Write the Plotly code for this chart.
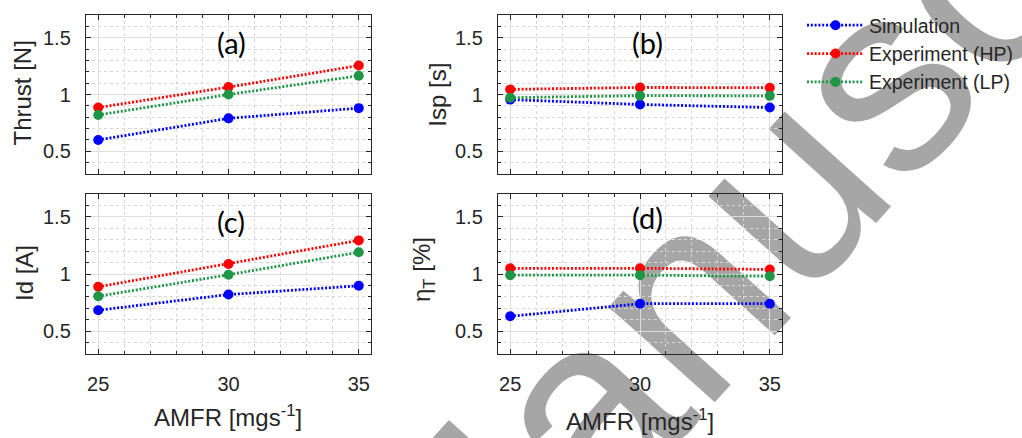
import plotly.graph_objects as go
from plotly.subplots import make_subplots

# Anode mass flow rate (mg/s)
amfr = [25, 30, 35]

# (a) Thrust [N]
thrust_sim = [0.60, 0.79, 0.88]
thrust_hp = [0.885, 1.065, 1.255]
thrust_lp = [0.82, 1.00, 1.165]

# (b) Isp [s]
isp_sim = [0.955, 0.912, 0.885]
isp_hp = [1.045, 1.062, 1.06]
isp_lp = [0.972, 0.99, 0.988]

# (c) Discharge current Id [A]
id_sim = [0.683, 0.82, 0.897]
id_hp = [0.888, 1.088, 1.294]
id_lp = [0.805, 0.994, 1.19]

# (d) Thrust efficiency [%]
eta_sim = [0.63, 0.74, 0.74]
eta_hp = [1.05, 1.05, 1.04]
eta_lp = [0.99, 0.99, 0.98]

series_names = ["Simulation", "Experiment (HP)", "Experiment (LP)"]
series_colors = ["rgb(0,0,255)", "rgb(255,0,0)", "rgb(30,150,70)"]
panel_tags = ["(a)", "(b)", "(c)", "(d)"]
y_titles = ["Thrust [N]", "Isp [s]", "Id [A]", "η<sub>T</sub> [%]"]
x_title = "AMFR [mgs<sup>-1</sup>]"
y_ticks = [0.5, 1, 1.5]
x_ticks = [25, 30, 35]

panels = [
    (thrust_sim, thrust_hp, thrust_lp),
    (isp_sim, isp_hp, isp_lp),
    (id_sim, id_hp, id_lp),
    (eta_sim, eta_hp, eta_lp),
]

W, H = 1022, 438
FONT = "Liberation Sans, Arial, Helvetica, sans-serif"
INK = "rgb(38,38,38)"

fig = make_subplots(rows=2, cols=2)

for k, series in enumerate(panels):
    r, c = k // 2 + 1, k % 2 + 1
    for name, vals, col in zip(series_names, series, series_colors):
        fig.add_trace(
            go.Scatter(
                x=amfr, y=vals, name=name, mode="lines+markers",
                line=dict(color=col, width=2.8, dash="2px,1.8px"),
                marker=dict(color=col, size=10, line=dict(width=0)),
                showlegend=(k == 0),
            ),
            row=r, col=c,
        )

# subplot placement in pixels: (left, right, top, bottom)
boxes = [(86, 371, 15, 174), (498, 782, 15, 174),
         (86, 371, 194, 354), (498, 782, 194, 354)]

for k, (l, rgt, t, b) in enumerate(boxes):
    sfx = "" if k == 0 else str(k + 1)
    bottom_row = k >= 2
    fig.layout["xaxis" + sfx].update(
        domain=[l / W, rgt / W], range=[24.53, 35.47],
        tickvals=x_ticks, showticklabels=bottom_row,
        ticks="inside", ticklen=5, tickcolor=INK,
        showline=True, linecolor=INK, linewidth=1.4, mirror="allticks",
        showgrid=True, gridcolor="rgb(222,222,222)", gridwidth=1,
        minor=dict(dtick=1, ticks="inside", ticklen=3, tickcolor=INK,
                   showgrid=True, gridcolor="rgb(215,215,215)", griddash="dot"),
        tickfont=dict(family=FONT, size=20, color=INK),
        ticklabelstandoff=12, zeroline=False,
    )
    fig.layout["yaxis" + sfx].update(
        domain=[1 - b / H, 1 - t / H], range=[0.3, 1.7],
        tickvals=y_ticks, ticktext=["0.5", "1", "1.5"],
        ticks="inside", ticklen=5, tickcolor=INK,
        showline=True, linecolor=INK, linewidth=1.4, mirror="allticks",
        showgrid=True, gridcolor="rgb(222,222,222)", gridwidth=1,
        minor=dict(dtick=0.1, ticks="inside", ticklen=3, tickcolor=INK,
                   showgrid=True, gridcolor="rgb(215,215,215)", griddash="dot"),
        tickfont=dict(family=FONT, size=20, color=INK),
        ticklabelstandoff=10, zeroline=False,
    )

annotations = []
# panel tags
tag_pos = [(30.1, 1.46), (30.3, 1.46), (30.1, 1.455), (30.3, 1.49)]
for k, (tag, (tx, ty)) in enumerate(zip(panel_tags, tag_pos)):
    sfx = "" if k == 0 else str(k + 1)
    annotations.append(dict(
        x=tx, y=ty, xref="x" + sfx, yref="y" + sfx, text=tag, showarrow=False,
        font=dict(family="Lato, Open Sans, sans-serif", size=29, color="black"),
    ))

# y-axis titles
ytitle_pos = [(22.5, 93), (436.7, 95), (24, 273), (423, 270)]
for txt, (px, py) in zip(y_titles, ytitle_pos):
    annotations.append(dict(
        x=px / W, y=1 - py / H, xref="paper", yref="paper", text=txt,
        textangle=-90, showarrow=False, xanchor="center", yanchor="middle",
        font=dict(family=FONT, size=24, color=INK),
    ))

# x-axis titles under the bottom row
for px, py in [(228, 416), (640, 420)]:
    annotations.append(dict(
        x=px / W, y=1 - py / H, xref="paper", yref="paper", text=x_title,
        showarrow=False, xanchor="center", yanchor="middle",
        font=dict(family=FONT, size=24, color=INK),
    ))

# diagonal watermark behind everything
cx, cy = 805 / W, 1 - 125 / H
fig.add_shape(
    type="rect", xref="paper", yref="paper",
    x0=cx - 0.05, x1=cx + 0.05, y0=cy - 0.05, y1=cy + 0.05,
    line=dict(width=0), fillcolor="rgba(0,0,0,0)", layer="below",
    label=dict(text="Manuscript", textangle=-48, textposition="middle center",
               font=dict(family=FONT, size=270, color="rgb(166,166,166)")),
)

fig.update_layout(
    width=W, height=H, margin=dict(l=0, r=0, t=0, b=0),
    paper_bgcolor="white", plot_bgcolor="rgba(0,0,0,0)",
    annotations=annotations,
    legend=dict(
        x=802 / W, y=1 - 6 / H, xanchor="left", yanchor="top",
        font=dict(family=FONT, size=19.5, color=INK),
        bgcolor="rgba(0,0,0,0)", itemwidth=57, tracegroupgap=0,
    ),
)

fig.write_html("out.html")
